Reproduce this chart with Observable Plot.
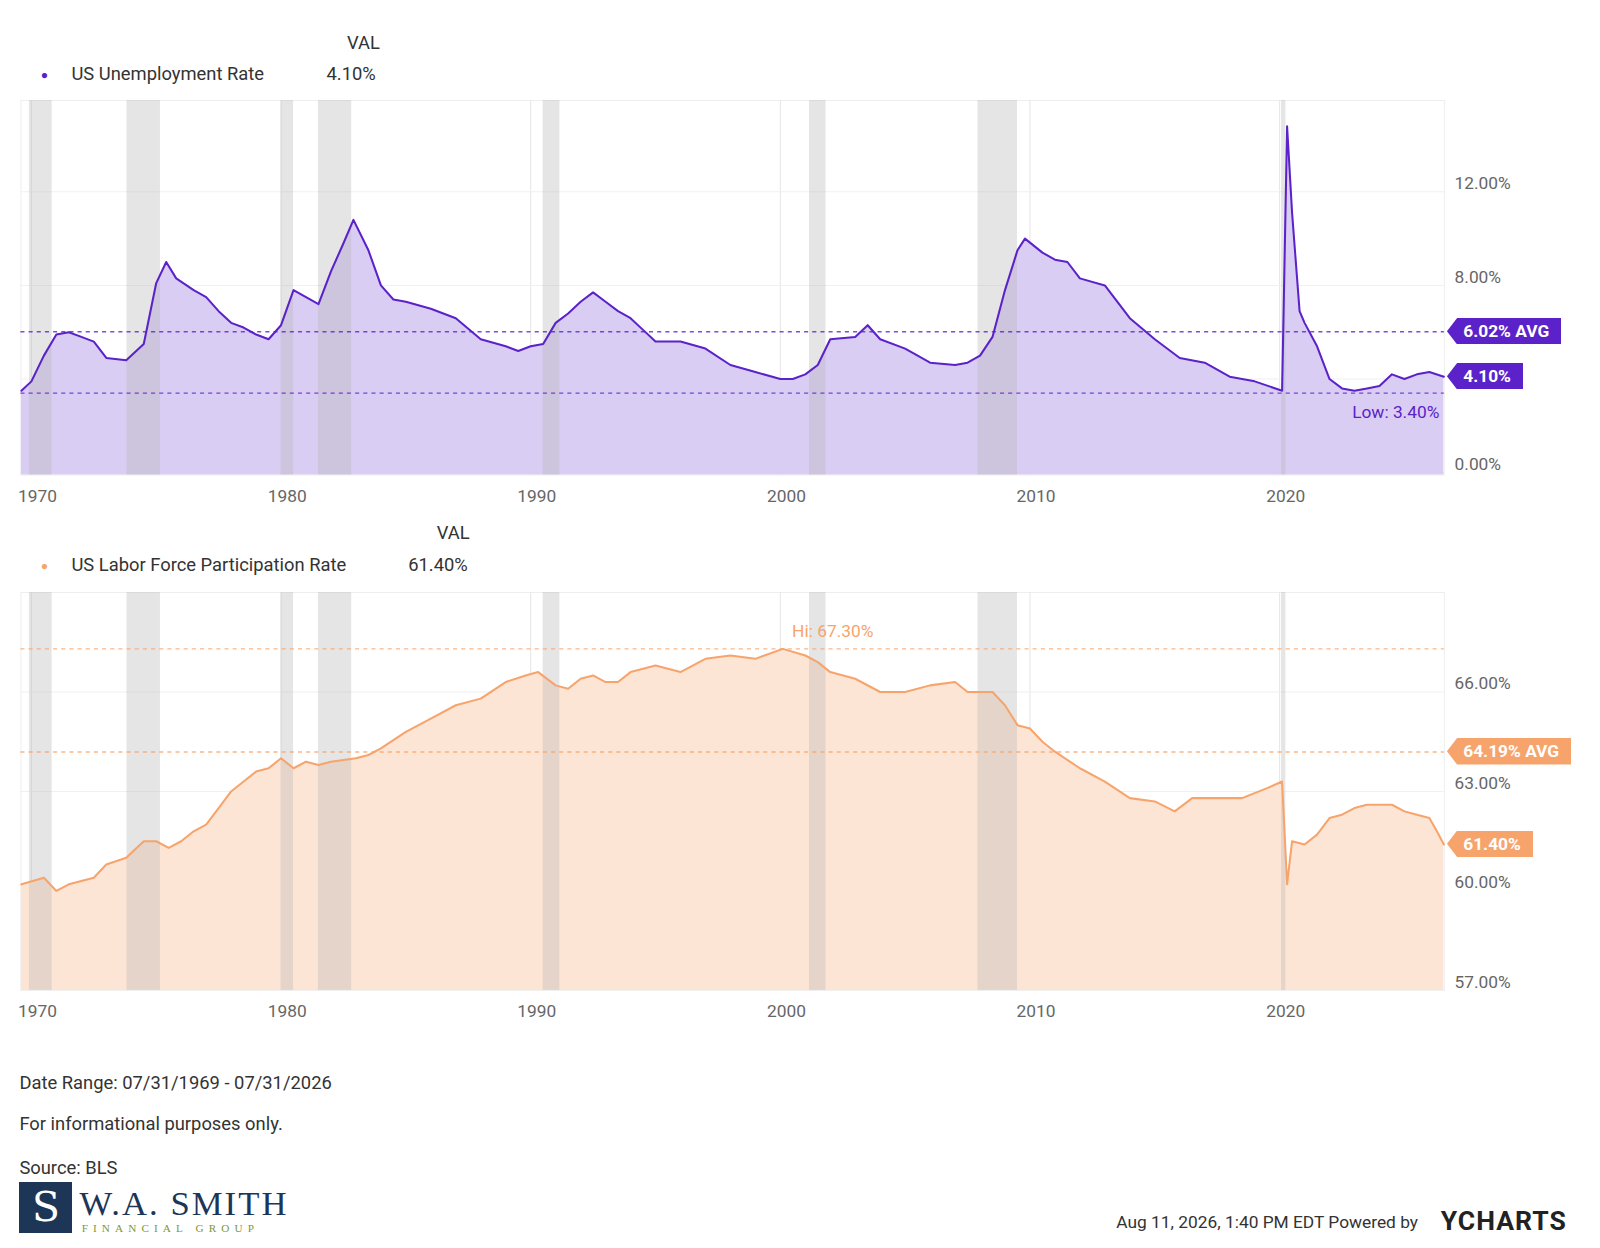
<!DOCTYPE html>
<html><head><meta charset="utf-8">
<script src="https://cdn.jsdelivr.net/npm/d3@7"></script>
<script src="https://cdn.jsdelivr.net/npm/@observablehq/plot@0.6"></script>
<style>
body{margin:0;background:#fff;font-family:Roboto,"Noto Sans",sans-serif;color:#333;zoom:1.0204;}
#wrap{position:relative;width:1568px;height:1223px;}
.abs{position:absolute;white-space:nowrap;}
.badge{position:absolute;height:26px;line-height:26px;color:#fff;font-weight:bold;font-size:17px;padding:0 12px 0 16px;clip-path:polygon(10px 0,100% 0,100% 100%,10px 100%,0 50%);}
</style></head><body><div id="wrap"></div>
<script>
const unempX=[1969.6,1970.0,1970.5,1971.0,1971.5,1972.0,1972.5,1973.0,1973.8,1974.5,1975.0,1975.4,1975.8,1976.5,1977.0,1977.5,1978.0,1978.5,1979.0,1979.5,1980.0,1980.5,1981.0,1981.5,1982.0,1982.5,1982.9,1983.5,1984.0,1984.5,1985.0,1986.0,1987.0,1988.0,1989.0,1989.5,1990.0,1990.5,1991.0,1991.5,1992.0,1992.5,1993.0,1993.5,1994.0,1994.5,1995.0,1996.0,1997.0,1998.0,1999.0,2000.0,2000.5,2001.0,2001.5,2002.0,2003.0,2003.5,2004.0,2005.0,2006.0,2007.0,2007.5,2008.0,2008.5,2009.0,2009.5,2009.8,2010.5,2011.0,2011.5,2012.0,2013.0,2014.0,2015.0,2016.0,2017.0,2018.0,2019.0,2020.1,2020.3,2020.5,2020.8,2021.0,2021.5,2022.0,2022.5,2023.0,2023.5,2024.0,2024.5,2025.0,2025.5,2026.0,2026.58];
const unempV=[3.5,3.9,5.0,5.9,6.0,5.8,5.6,4.9,4.8,5.5,8.1,9.0,8.3,7.8,7.5,6.9,6.4,6.2,5.9,5.7,6.3,7.8,7.5,7.2,8.6,9.8,10.8,9.5,8.0,7.4,7.3,7.0,6.6,5.7,5.4,5.2,5.4,5.5,6.4,6.8,7.3,7.7,7.3,6.9,6.6,6.1,5.6,5.6,5.3,4.6,4.3,4.0,4.0,4.2,4.6,5.7,5.8,6.3,5.7,5.3,4.7,4.6,4.7,5.0,5.8,7.8,9.5,10.0,9.4,9.1,9.0,8.3,8.0,6.6,5.7,4.9,4.7,4.1,3.9,3.5,14.8,11.1,6.9,6.4,5.4,4.0,3.6,3.5,3.6,3.7,4.2,4.0,4.2,4.3,4.1];
const lfprX=[1969.6,1970.5,1971.0,1971.5,1972.0,1972.5,1973.0,1973.8,1974.5,1975.0,1975.5,1976.0,1976.5,1977.0,1977.5,1978.0,1978.5,1979.0,1979.5,1980.0,1980.5,1981.0,1981.5,1982.0,1983.0,1983.5,1984.0,1985.0,1986.0,1987.0,1988.0,1989.0,1989.8,1990.3,1991.0,1991.5,1992.0,1992.5,1993.0,1993.5,1994.0,1995.0,1996.0,1997.0,1998.0,1999.0,2000.1,2001.0,2001.5,2002.0,2003.0,2004.0,2005.0,2006.0,2007.0,2007.5,2008.5,2009.0,2009.5,2010.0,2010.5,2011.0,2012.0,2013.0,2014.0,2015.0,2015.8,2016.5,2017.5,2018.5,2019.5,2020.1,2020.3,2020.5,2021.0,2021.5,2022.0,2022.5,2023.0,2023.5,2024.0,2024.5,2025.0,2025.5,2026.0,2026.3,2026.58];
const lfprV=[60.2,60.4,60.0,60.2,60.3,60.4,60.8,61.0,61.5,61.5,61.3,61.5,61.8,62.0,62.5,63.0,63.3,63.6,63.7,64.0,63.7,63.9,63.8,63.9,64.0,64.1,64.3,64.8,65.2,65.6,65.8,66.3,66.5,66.6,66.2,66.1,66.4,66.5,66.3,66.3,66.6,66.8,66.6,67.0,67.1,67.0,67.3,67.1,66.9,66.6,66.4,66.0,66.0,66.2,66.3,66.0,66.0,65.6,65.0,64.9,64.5,64.2,63.7,63.3,62.8,62.7,62.4,62.8,62.8,62.8,63.1,63.3,60.2,61.5,61.4,61.7,62.2,62.3,62.5,62.6,62.6,62.6,62.4,62.3,62.2,61.8,61.4];
const recStart=[1969.92,1973.83,1980.0,1981.5,1990.5,2001.17,2007.92,2020.08];
const recEnd=[1970.83,1975.17,1980.5,1982.83,1991.17,2001.83,2009.5,2020.25];
const xTicks=[1970,1980,1990,2000,2010,2020];
const unempTicks=[0,4,8,12];
const unempTickLabels=[0,8,12];
const lfprTicks=[57,60,63,66];
const unempAvg=6.02, unempLow=3.4, unempLast=4.10;
const lfprAvg=64.19, lfprHi=67.3, lfprLast=61.40;

const wrap=document.getElementById("wrap");
const rec=recStart.map((s,i)=>({s,e:recEnd[i]}));
function panel({X,V,yDomain,yTicks,yLabels,line,fill,top,height,refs,labels,ldy,lanchor}){
  const data=X.map((x,i)=>({x,v:V[i]}));
  const ch=Plot.plot({
    width:1568,height,marginTop:0,marginBottom:40,marginLeft:20,marginRight:153,
    style:{fontFamily:"Roboto",fontSize:"17px",color:"#666",background:"transparent"},
    x:{domain:[1969.58,2026.6]},
    y:{domain:yDomain},
    marks:[
      Plot.frame({stroke:"#eee"}),
      Plot.gridX(xTicks,{stroke:"#e6e6e6",strokeOpacity:1}),
      Plot.gridY(yTicks,{stroke:"#f0f0f0",strokeOpacity:1}),
      Plot.areaY(data,{x:"x",y1:yDomain[0],y2:"v",fill,fillOpacity:1}),
      Plot.rectY(rec,{x1:"s",x2:"e",y1:yDomain[0],y2:yDomain[1],fill:"#b5b5b5",fillOpacity:0.35}),
      Plot.ruleY(refs,{stroke:line,strokeDasharray:"4,4",strokeWidth:1.3,strokeOpacity:0.8}),
      Plot.lineY(data,{x:"x",y:"v",stroke:line,strokeWidth:2}),
      Plot.axisX(xTicks,{tickFormat:d=>String(d),tickSize:0,tickPadding:14,fontSize:17,dx:6}),
      Plot.axisY(yLabels,{anchor:"right",tickFormat:d=>d.toFixed(2)+"%",tickSize:0,tickPadding:10,fontSize:17,dy:-8}),
      Plot.text(labels,{x:"x",y:"y",text:"t",fill:line,fontSize:17,dy:ldy,textAnchor:lanchor})
    ]
  });
  ch.style.position="absolute";ch.style.left="0";ch.style.top=top+"px";
  wrap.appendChild(ch);
  return ch;
}
const p1=panel({X:unempX,V:unempV,yDomain:[-0.1,15.9],yTicks:unempTicks,yLabels:unempTickLabels,line:"#5b22c9",fill:"#dacdf3",top:98,height:407,
  refs:[unempAvg,unempLow],labels:[{x:2026.4,y:unempLow,t:"Low: 3.40%"}],ldy:19,lanchor:"end"});
const p2=panel({X:lfprX,V:lfprV,yDomain:[57,69],yTicks:lfprTicks,yLabels:lfprTicks,line:"#f7a46c",fill:"#fde5d5",top:580,height:430,
  refs:[lfprAvg,lfprHi],labels:[{x:2002.1,y:lfprHi,t:"Hi: 67.30%"}],ldy:-17,lanchor:"middle"});
function badge(ch,top,val,txt,color){
  const y=ch.scale("y").apply(val);
  const b=document.createElement("div");b.className="badge";b.textContent=txt;
  b.style.background=color;b.style.left="1418px";b.style.top=(top+y-13)+"px";wrap.appendChild(b);
}
badge(p1,98,unempAvg,"6.02% AVG","#5b22c9");
badge(p1,98,unempLast,"4.10%","#5b22c9");
badge(p2,580,lfprAvg,"64.19% AVG","#f7a46c");
badge(p2,580,lfprLast,"61.40%","#f7a46c");
function txt(x,y,t,css){const d=document.createElement("div");d.className="abs";d.style.left=x+"px";d.style.top=y+"px";d.textContent=t;if(css)d.style.cssText+=css;wrap.appendChild(d);return d;}
const f="font-size:18px;";
txt(340,31,"VAL",f);
txt(40,62,"●",f+"color:#5b22c9;font-size:12px;top:67px");
txt(70,62,"US Unemployment Rate",f);txt(320,62,"4.10%",f);
txt(428,512,"VAL",f);
txt(40,543,"●",f+"color:#f7a46c;font-size:12px;top:548px");
txt(70,543,"US Labor Force Participation Rate",f);txt(400,543,"61.40%",f);
txt(19,1051,"Date Range: 07/31/1969 - 07/31/2026",f);
txt(19,1091,"For informational purposes only.",f);
txt(19,1134,"Source: BLS",f);
txt(19,1158,"S",'font-family:"DejaVu Serif",serif;font-size:40px;color:#fff;background:#1d3557;width:52px;height:50px;text-align:center;line-height:50px;');
txt(78,1160,"W.A. SMITH",'font-family:"Liberation Serif",serif;font-size:34px;color:#1d3557;letter-spacing:2px;');
txt(80,1198,"FINANCIAL GROUP",'font-family:"Liberation Serif",serif;font-size:11px;color:#7a9a3a;letter-spacing:5px;');
txt(1094,1188,"Aug 11, 2026, 1:40 PM EDT Powered by",'font-size:17px;');
txt(1412,1181,"YCHARTS",'font-size:26px;font-weight:bold;color:#222;letter-spacing:1px;');
</script></body></html>
